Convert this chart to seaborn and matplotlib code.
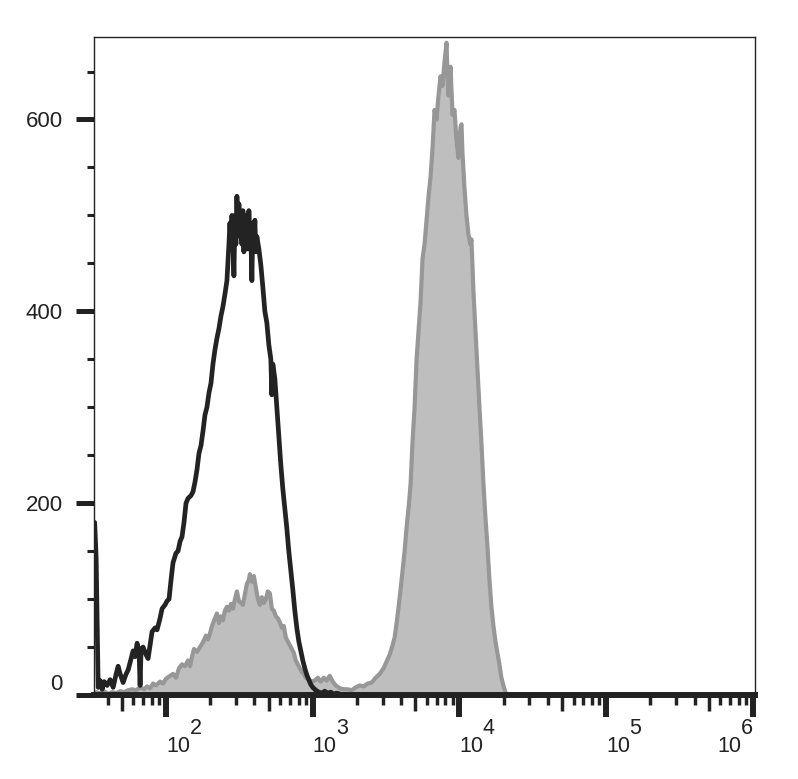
import numpy as np
import matplotlib
matplotlib.use("Agg")
import matplotlib.pyplot as plt
import matplotlib.ticker as mticker
import seaborn as sns

# log10 fluorescence intensity and event counts
black_log = [1.5136, 1.5238, 1.5306, 1.5374, 1.5510, 1.5646, 1.5782, 1.5986, 1.6190, 1.6395,
             1.6599, 1.6735, 1.6871, 1.7075, 1.7279, 1.7415, 1.7619, 1.7755, 1.7891, 1.8027,
             1.8163, 1.8231, 1.8299, 1.8435, 1.8639, 1.8776, 1.8912, 1.9048, 1.9252, 1.9388,
             1.9592, 1.9728, 1.9932, 2.0068, 2.0204, 2.0340, 2.0476, 2.0680, 2.0816, 2.0952,
             2.1088, 2.1224, 2.1361, 2.1497, 2.1701, 2.1837, 2.1973, 2.2109, 2.2245, 2.2381,
             2.2517, 2.2653, 2.2789, 2.2925, 2.3061, 2.3197, 2.3333, 2.3469, 2.3605, 2.3741,
             2.3878, 2.4014, 2.4150, 2.4286, 2.4354, 2.4422, 2.4490, 2.4558, 2.4626, 2.4694,
             2.4762, 2.4830, 2.4898, 2.4966, 2.5034, 2.5102, 2.5170, 2.5238, 2.5306, 2.5374,
             2.5442, 2.5510, 2.5578, 2.5646, 2.5714, 2.5782, 2.5850, 2.5918, 2.5986, 2.6054,
             2.6122, 2.6190, 2.6327, 2.6463, 2.6599, 2.6735, 2.6871, 2.7007, 2.7143, 2.7211,
             2.7279, 2.7415, 2.7551, 2.7687, 2.7823, 2.7959, 2.8095, 2.8231, 2.8367, 2.8503,
             2.8639, 2.8776, 2.8912, 2.9048, 2.9184, 2.9320, 2.9456, 2.9592, 2.9728, 2.9864,
             3.0000, 3.0204, 3.0408, 3.0612, 3.0816, 3.1020, 3.1224, 3.1429, 3.1633, 3.1837,
             3.2177]
black_count = [180, 142, 75, 8, 15, 6, 14, 10, 16, 8,
               22, 30, 22, 13, 22, 26, 38, 46, 40, 54,
               44, 10, 48, 50, 42, 38, 52, 66, 70, 68,
               80, 90, 94, 98, 100, 120, 138, 148, 150, 160,
               165, 180, 200, 205, 208, 212, 222, 235, 252, 260,
               275, 292, 300, 315, 325, 345, 360, 372, 382, 395,
               405, 418, 432, 470, 492, 470, 500, 478, 437, 500,
               470, 520, 480, 512, 478, 498, 470, 505, 462, 500,
               470, 492, 465, 505, 478, 480, 432, 492, 470, 495,
               462, 478, 465, 448, 425, 400, 388, 365, 350, 313,
               345, 330, 300, 270, 240, 215, 195, 174, 150, 130,
               110, 88, 70, 56, 46, 36, 28, 21, 16, 11,
               8, 5, 3, 2, 4, 2, 3, 1, 2, 1,
               0]

gray_log = [1.5102, 1.5238, 1.5510, 1.5782, 1.6054, 1.6327, 1.6599, 1.6871, 1.7143, 1.7415,
            1.7687, 1.7959, 1.8231, 1.8503, 1.8707, 1.8912, 1.9116, 1.9320, 1.9592, 1.9796,
            2.0000, 2.0272, 2.0476, 2.0680, 2.0884, 2.1088, 2.1293, 2.1497, 2.1633, 2.1769,
            2.1905, 2.2109, 2.2313, 2.2517, 2.2721, 2.2857, 2.2993, 2.3129, 2.3333, 2.3469,
            2.3605, 2.3741, 2.3878, 2.4014, 2.4150, 2.4286, 2.4422, 2.4558, 2.4694, 2.4830,
            2.4966, 2.5102, 2.5238, 2.5374, 2.5510, 2.5646, 2.5714, 2.5850, 2.5986, 2.6122,
            2.6259, 2.6395, 2.6531, 2.6667, 2.6803, 2.6939, 2.7075, 2.7211, 2.7347, 2.7483,
            2.7619, 2.7755, 2.7891, 2.8027, 2.8163, 2.8299, 2.8435, 2.8571, 2.8707, 2.8844,
            2.8980, 2.9116, 2.9252, 2.9388, 2.9524, 2.9728, 2.9932, 3.0136, 3.0340, 3.0544,
            3.0748, 3.0952, 3.1156, 3.1361, 3.1565, 3.1837, 3.2109, 3.2381, 3.2653, 3.2925,
            3.3197, 3.3469, 3.3741, 3.4014, 3.4286, 3.4558, 3.4830, 3.5034, 3.5238, 3.5442,
            3.5578, 3.5714, 3.5850, 3.5986, 3.6122, 3.6259, 3.6395, 3.6531, 3.6667, 3.6803,
            3.6939, 3.7075, 3.7211, 3.7347, 3.7483, 3.7619, 3.7755, 3.7891, 3.8027, 3.8163,
            3.8299, 3.8435, 3.8571, 3.8707, 3.8844, 3.8980, 3.9116, 3.9184, 3.9252, 3.9388,
            3.9456, 3.9524, 3.9660, 3.9796, 3.9932, 4.0068, 4.0136, 4.0204, 4.0340, 4.0476,
            4.0612, 4.0748, 4.0816, 4.0952, 4.1088, 4.1224, 4.1361, 4.1497, 4.1633, 4.1769,
            4.1905, 4.2041, 4.2177, 4.2313, 4.2449, 4.2585, 4.2721, 4.2857, 4.2993, 4.3129,
            4.3265]
gray_count = [0, 3, 2, 4, 1, 3, 2, 4, 3, 5,
              6, 5, 8, 6, 9, 7, 12, 10, 14, 12,
              17, 20, 22, 18, 28, 32, 30, 36, 30, 40,
              48, 45, 50, 55, 62, 58, 64, 72, 80, 85,
              75, 82, 78, 88, 92, 88, 95, 90, 100, 108,
              98, 96, 94, 105, 116, 120, 126, 118, 124, 112,
              100, 94, 102, 96, 100, 108, 106, 90, 88, 82,
              80, 76, 70, 72, 60, 56, 52, 48, 44, 36,
              32, 28, 24, 22, 18, 16, 14, 15, 18, 14,
              18, 15, 20, 14, 10, 7, 6, 6, 5, 8,
              10, 9, 12, 13, 18, 22, 28, 35, 42, 52,
              60, 75, 92, 110, 130, 150, 175, 195, 220, 265,
              300, 350, 380, 410, 455, 470, 495, 520, 540, 570,
              610, 600, 625, 645, 635, 660, 680, 645, 625, 655,
              630, 605, 610, 578, 560, 592, 595, 565, 528, 500,
              480, 470, 475, 420, 380, 340, 300, 262, 220, 185,
              155, 120, 92, 72, 56, 44, 32, 18, 10, 3,
              0]

decades = [2, 3, 4, 5, 6]
half_decades = [50, 500, 5000, 50000, 500000]
y_major = [0, 200, 400, 600]
y_minor = [50, 100, 150, 250, 300, 350, 450, 500, 550, 650]

ink = "#222222"
sns.set_theme(style="ticks")
plt.rcParams["font.family"] = ["Liberation Sans", "DejaVu Sans"]

fig = plt.figure(figsize=(7.98, 7.79), dpi=100)
ax = fig.add_axes([0.1178, 0.1078, 0.8283, 0.8447])

gray_x = np.power(10.0, gray_log)
black_x = np.power(10.0, black_log)

ax.fill_between(gray_x, 0, gray_count, color="#bebebe", lw=0, zorder=1)
sns.lineplot(x=gray_x, y=gray_count, ax=ax, color="#979797", lw=3,
             sort=False, estimator=None, zorder=2)
sns.lineplot(x=black_x, y=black_count, ax=ax, color="#232323", lw=3.4,
             sort=False, estimator=None, zorder=3)

ax.set_xscale("log")
ax.set_xlim(10 ** 1.509, 10 ** 6.014)
ax.set_ylim(0, 686)
ax.set_xlabel("")
ax.set_ylabel("")

# x axis: decades, with minor log ticks (5x drawn longer on a second axis)
ax.set_xticks([10.0 ** d for d in decades])
ax.set_xticklabels([f"    {d}\n10" for d in decades])
ax.xaxis.set_minor_locator(mticker.LogLocator(base=10, subs=(2, 3, 4, 6, 7, 8, 9), numticks=50))
ax.xaxis.set_minor_formatter(mticker.NullFormatter())
ax.tick_params(axis="x", which="major", length=15.8, width=4.3, pad=1,
               labelsize=15.5, color=ink, labelcolor=ink)
ax.tick_params(axis="x", which="minor", length=7.2, width=2.5, color=ink)
labels = ax.get_xticklabels()
for i, lab in enumerate(labels):
    lab.set_ha("right" if i == len(labels) - 1 else "left")
    lab.set_multialignment("left")
    lab.set_linespacing(0.8)

sec = ax.secondary_xaxis("bottom")
sec.set_xticks(half_decades)
sec.set_xticklabels([])
sec.xaxis.set_minor_locator(mticker.NullLocator())
sec.tick_params(axis="x", which="major", length=11.5, width=2.5, color=ink)
sec.spines["bottom"].set_visible(False)

# y axis
ax.set_yticks(y_major)
ax.set_yticks(y_minor, minor=True)
ax.tick_params(axis="y", which="major", length=13, width=3.6, pad=9.4,
               labelsize=16, color=ink, labelcolor=ink)
ax.tick_params(axis="y", which="minor", length=5, width=2.2, color=ink)
ax.get_yticklabels()[0].set_va("bottom")

for side in ["top", "right", "left"]:
    ax.spines[side].set_linewidth(1.0)
    ax.spines[side].set_color(ink)
ax.spines["bottom"].set_linewidth(4.3)
ax.spines["bottom"].set_color(ink)

fig.savefig("out.png", dpi=100)
